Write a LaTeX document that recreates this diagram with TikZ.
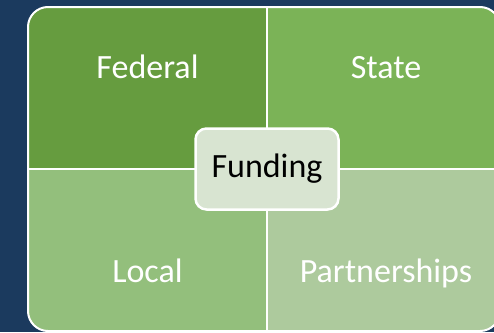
\documentclass[tikz,border=0pt]{standalone}
\usepackage{fontspec}
\setmainfont{Carlito}
\usepackage{tikz}
\usetikzlibrary{positioning}
\definecolor{navy}{HTML}{1B3A5E}
\definecolor{federal}{HTML}{669C3F}
\definecolor{state}{HTML}{7BB357}
\definecolor{local}{HTML}{93BF7C}
\definecolor{partner}{HTML}{ADCA9D}
\definecolor{hubfill}{HTML}{D8E4D1}
\tikzset{
  frame/.style={draw=white, line width=2pt},
  quadlabel/.style={text=white, anchor=base, inner sep=0pt, font=\fontsize{34}{40}\selectfont},
  hub/.style={draw=white, line width=2.5pt, fill=hubfill, rounded corners=11pt,
    minimum width=143pt, minimum height=81pt, text=black, font=\fontsize{34}{40}\selectfont}
}

\begin{document}
\begin{tikzpicture}[x=1pt, y=-1pt]
  \fill[navy] (0,0) rectangle (494,332);
  \useasboundingbox (0,0) rectangle (494,332);
  \coordinate (NW) at (28,7);
  \coordinate (SE) at (500,331);
  \coordinate (M) at (267,169);
  % four quadrants inside the rounded frame
  \begin{scope}
    \clip[rounded corners=20pt] (NW) rectangle (SE);
    \fill[federal] (NW) rectangle (M);
    \fill[state] (M |- NW) rectangle (M -| SE);
    \fill[local] (NW |- M) rectangle (M |- SE);
    \fill[partner] (M) rectangle (SE);
  \end{scope}
  \draw[frame, rounded corners=20pt] (NW) rectangle (SE);
  \draw[frame] (M |- NW) -- (M |- SE);
  \draw[frame] (NW |- M) -- (M -| SE);
  % labels
  \node[quadlabel] (federal) at (147.5,78) {Federal};
  \node[quadlabel] (state) at (386,78) {State};
  \node[quadlabel] (local) at (147.5,282) {Local};
  \node[quadlabel] (partnerships) at (386,282) {Partnerships};
  \node[hub] (funding) at (M) {Funding};
\end{tikzpicture}
\end{document}
